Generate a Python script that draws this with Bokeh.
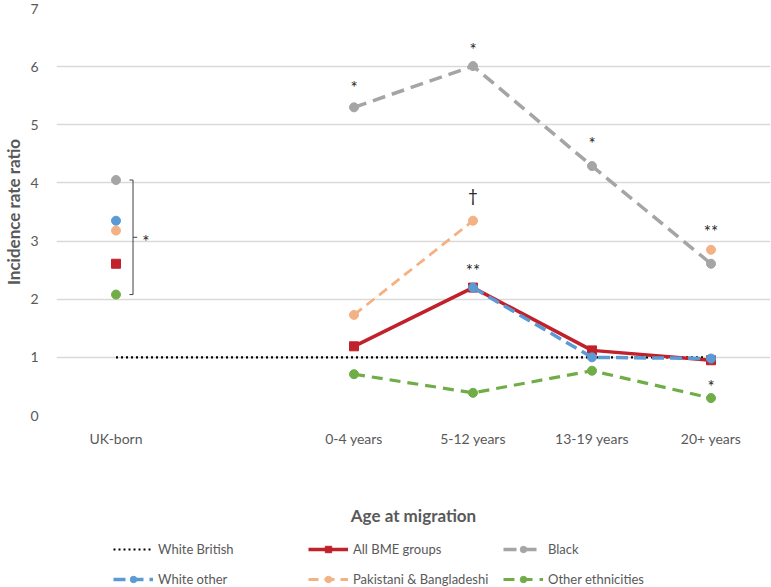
from bokeh.plotting import figure
from bokeh.layouts import column
from bokeh.models import Range1d, FixedTicker, Legend, LegendItem
from bokeh.embed import file_html
from bokeh.resources import INLINE
from bokeh.core.properties import value

# ---------------- data ----------------
categories = ["UK-born", "", "0-4 years", "5-12 years", "13-19 years", "20+ years"]
migration_groups = ["0-4 years", "5-12 years", "13-19 years", "20+ years"]
y_ticks = [0, 1, 2, 3, 4, 5, 6, 7]

white_british = [1, 1, 1, 1, 1, 1]          # reference line over all categories

bme_uk = 2.61
bme_mig = [1.19, 2.20, 1.12, 0.95]
black_uk = 4.05
black_mig = [5.30, 6.01, 4.29, 2.61]
white_other_uk = 3.35
white_other_mig = [float("nan"), 2.20, 1.00, 0.98]
pak_uk = 3.18
pak_mig = [1.73, 3.35, float("nan"), 2.85]
other_uk = 2.08
other_mig = [0.71, 0.39, 0.77, 0.30]

# significance marks (group, y, text)
sig_group = ["0-4 years", "5-12 years", "13-19 years", "20+ years", "5-12 years", "5-12 years", "20+ years"]
sig_y = [5.64, 6.30, 4.68, 3.17, 3.78, 2.50, 0.50]
sig_text = ["*", "*", "*", "**", "\u2020", "**", "*"]
uk_sig_text = "*"

legend_labels = ["White British", "All BME groups", "Black",
                 "White other", "Pakistani & Bangladeshi", "Other ethnicities"]

# ---------------- styling ----------------
FONT = "Lato"
GREY_TXT = "#595959"
C_BME = "#C0212B"
C_BLACK = "#A5A5A5"
C_WO = "#5B9BD5"
C_PAK = "#F4B183"
C_OTH = "#70AD47"

styles = [
    dict(line_color="black", line_width=2.2, line_dash="2 3", marker=None, color=None),
    dict(line_color=C_BME, line_width=3.5, line_dash="solid", marker="square", color=C_BME),
    dict(line_color=C_BLACK, line_width=3.5, line_dash="13 7", marker="circle", color=C_BLACK),
    dict(line_color=C_WO, line_width=3.5, line_dash="12 6", marker="circle", color=C_WO),
    dict(line_color=C_PAK, line_width=2.8, line_dash="10 6", marker="circle", color=C_PAK),
    dict(line_color=C_OTH, line_width=3.2, line_dash="11 7", marker="circle", color=C_OTH),
]

pos = {c: i for i, c in enumerate(categories)}
xm = [pos[g] for g in migration_groups]
x_uk = pos["UK-born"]
xall = list(range(len(categories)))

LEFT = 56
p = figure(width=771, height=530, output_backend="svg", toolbar_location=None,
           x_range=Range1d(-0.5, len(categories) - 0.5), y_range=Range1d(0, 7),
           min_border_left=LEFT, min_border_right=1, min_border_top=8, min_border_bottom=115)
p.outline_line_color = None

p.xgrid.grid_line_color = None
p.ygrid.grid_line_color = "#D9D9D9"
p.ygrid.grid_line_width = 1.3
p.yaxis.ticker = FixedTicker(ticks=y_ticks)
p.xaxis.ticker = FixedTicker(ticks=[pos[c] for c in categories if c])
p.xaxis.major_label_overrides = {pos[c]: c for c in categories if c}

for ax in (p.xaxis[0], p.yaxis[0]):
    ax.axis_line_color = None
    ax.major_tick_line_color = None
    ax.minor_tick_line_color = None
    ax.major_label_text_font = FONT
    ax.major_label_text_font_size = "14px"
    ax.major_label_text_color = GREY_TXT
    ax.axis_label_text_font = FONT
    ax.axis_label_text_font_size = "17px"
    ax.axis_label_text_font_style = "bold"
    ax.axis_label_text_color = GREY_TXT

p.yaxis.axis_label = "Incidence rate ratio"
p.yaxis.major_label_standoff = 12
p.yaxis.axis_label_standoff = 3
p.xaxis.axis_label = "Age at migration"
p.xaxis.major_label_standoff = 8
p.xaxis.axis_label_standoff = 55

# White British reference
wb = styles[0]
p.line(xall, white_british, line_color=wb["line_color"], line_width=wb["line_width"],
       line_dash=wb["line_dash"])

series = [
    (bme_uk, bme_mig, styles[1]),
    (black_uk, black_mig, styles[2]),
    (white_other_uk, white_other_mig, styles[3]),
    (pak_uk, pak_mig, styles[4]),
    (other_uk, other_mig, styles[5]),
]
for uk, mig, st in series:
    p.line(xm, mig, line_color=st["line_color"], line_width=st["line_width"], line_dash=st["line_dash"])
    p.scatter(xm, mig, marker=st["marker"], size=9, color=st["color"])
    p.scatter([x_uk], [uk], marker=st["marker"], size=9, color=st["color"])

# bracket for UK-born
uk_vals = [bme_uk, black_uk, white_other_uk, pak_uk, other_uk]
top, bot = max(uk_vals), min(uk_vals)
mid = (top + bot) / 2
bx = x_uk + 0.143
p.line([bx - 0.03, bx, bx, bx - 0.03], [top, top, bot, bot], line_color="#404040", line_width=1)
p.line([bx, bx + 0.035], [mid, mid], line_color="#404040", line_width=1)
p.text([x_uk + 0.25], [mid], text=[uk_sig_text], text_font=value(FONT), text_font_size="17px",
       text_align="center", text_baseline="middle", text_color="#262626", y_offset=4)

# significance marks
p.text([pos[g] for g in sig_group], sig_y, text=sig_text, text_font=value(FONT),
       text_font_size="17px", text_align="center", text_baseline="middle", text_color="#262626")

# ---------------- legend strip ----------------
lg = figure(width=771, height=57, output_backend="svg", toolbar_location=None,
            x_range=Range1d(100, 101), y_range=Range1d(100, 101),
            min_border_left=LEFT, min_border_right=0, min_border_top=0, min_border_bottom=0)
lg.axis.visible = False
lg.grid.grid_line_color = None
lg.outline_line_color = None

legend_data = [white_british, bme_mig, black_mig, white_other_mig, pak_mig, other_mig]
items = []
for lab, st, ys in zip(legend_labels, styles, legend_data):
    xs = xall if len(ys) == len(xall) else xm
    rs = [lg.line(xs, ys, line_color=st["line_color"], line_width=st["line_width"],
                  line_dash=st["line_dash"])]
    if st["marker"]:
        rs.append(lg.scatter(xs, ys, marker=st["marker"], size=9, color=st["color"]))
    items.append(LegendItem(label=lab, renderers=rs))

legend = Legend(items=items, location=(113 - LEFT, 0), orientation="horizontal", ncols=3)
legend.border_line_color = None
legend.background_fill_alpha = 0
legend.padding = 0
legend.margin = 0
legend.spacing = 14
legend.glyph_width = 40
legend.glyph_height = 16
legend.label_height = 16
legend.label_standoff = 5
legend.label_width = 136
legend.label_text_font = FONT
legend.label_text_font_size = "13px"
legend.label_text_color = GREY_TXT
legend.label_text_baseline = "middle"
lg.add_layout(legend, "center")

root = column(p, lg, spacing=0)

open("out.html", "w").write(file_html(root, INLINE))
